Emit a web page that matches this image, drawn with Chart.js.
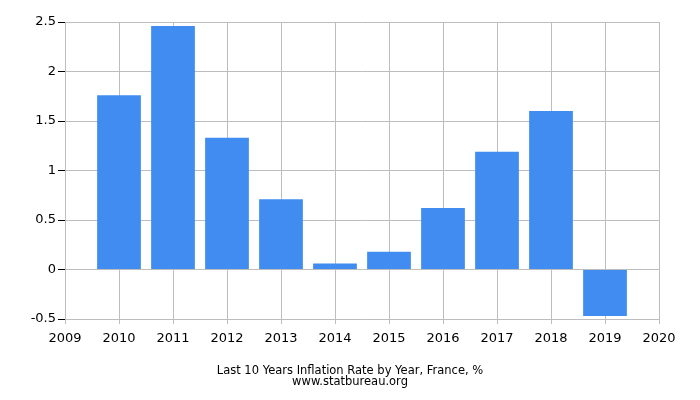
<!DOCTYPE html>
<html>
<head>
<meta charset="utf-8">
<script src="https://cdn.jsdelivr.net/npm/chart.js@4"></script>
<style>
  html, body { margin: 0; padding: 0; background: #fff; }
  #wrap { width: 700px; height: 400px; }
</style>
</head>
<body>
<div id="wrap"><canvas id="chartContainer"></canvas></div>
<script>
"use strict";

// data
const years = [2010, 2011, 2012, 2013, 2014, 2015, 2016, 2017, 2018, 2019];
const inflation = [1.76, 2.46, 1.33, 0.71, 0.06, 0.18, 0.62, 1.19, 1.60, -0.47];
const yTicks = [-0.5, 0, 0.5, 1, 1.5, 2, 2.5];
const titleLines = ["Last 10 Years Inflation Rate by Year, France, %", "www.statbureau.org"];

// chart.js wants points as {x, y} for a linear x axis
function prepareData() {
  let points = [];
  for (let i = 0; i < years.length; i++) {
    points.push({ x: years[i], y: inflation[i] });
  }
  return points;
}

Chart.defaults.font.family = "'DejaVu Sans', sans-serif";
Chart.defaults.color = "#000";

const gridColor = "#bdbdbd";

new Chart(document.getElementById("chartContainer"), {
  type: "bar",
  data: {
    datasets: [{
      data: prepareData(),
      backgroundColor: "#418cf0",
      borderWidth: 0,
      categoryPercentage: 1,
      barPercentage: 0.81
    }]
  },
  options: {
    responsive: true,
    maintainAspectRatio: false,
    animation: false,
    layout: { padding: { top: 22, right: 41, bottom: 50, left: 0 } },
    plugins: {
      legend: { display: false },
      tooltip: { enabled: false },
      title: { display: false }
    },
    scales: {
      x: {
        type: "linear",
        min: 2009,
        max: 2020,
        offset: false,
        ticks: { stepSize: 1, font: { size: 13 }, color: "#000", padding: 7, callback: v => String(v) },
        grid: { offset: false, color: gridColor, tickColor: gridColor, tickLength: 5 },
        border: { color: gridColor },
        afterFit: s => { s.height = 31; }
      },
      y: {
        min: -0.5,
        max: 2.5,
        afterBuildTicks: s => { s.ticks = yTicks.map(v => ({ value: v })); },
        ticks: { font: { size: 13 }, color: "#000", padding: 2, callback: v => String(v) },
        grid: { color: gridColor, tickColor: "#000", tickLength: 7 },
        border: { color: gridColor },
        afterFit: s => { s.width = 65; }
      }
    }
  },
  plugins: [{
    // right edge border of the plot and the two caption lines under the chart
    id: "frame",
    afterDraw(chart) {
      const a = chart.chartArea, ctx = chart.ctx;
      ctx.save();
      ctx.strokeStyle = gridColor;
      ctx.lineWidth = 1;
      ctx.beginPath();
      ctx.moveTo(Math.round(a.right) + 0.5, a.top);
      ctx.lineTo(Math.round(a.right) + 0.5, a.bottom);
      ctx.stroke();
      ctx.fillStyle = "#000";
      ctx.font = "11.5px 'DejaVu Sans', sans-serif";
      ctx.textAlign = "center";
      ctx.textBaseline = "middle";
      ctx.fillText(titleLines[0], chart.width / 2, 371);
      ctx.fillText(titleLines[1], chart.width / 2, 382);
      ctx.restore();
    }
  }]
});
</script>
</body>
</html>
